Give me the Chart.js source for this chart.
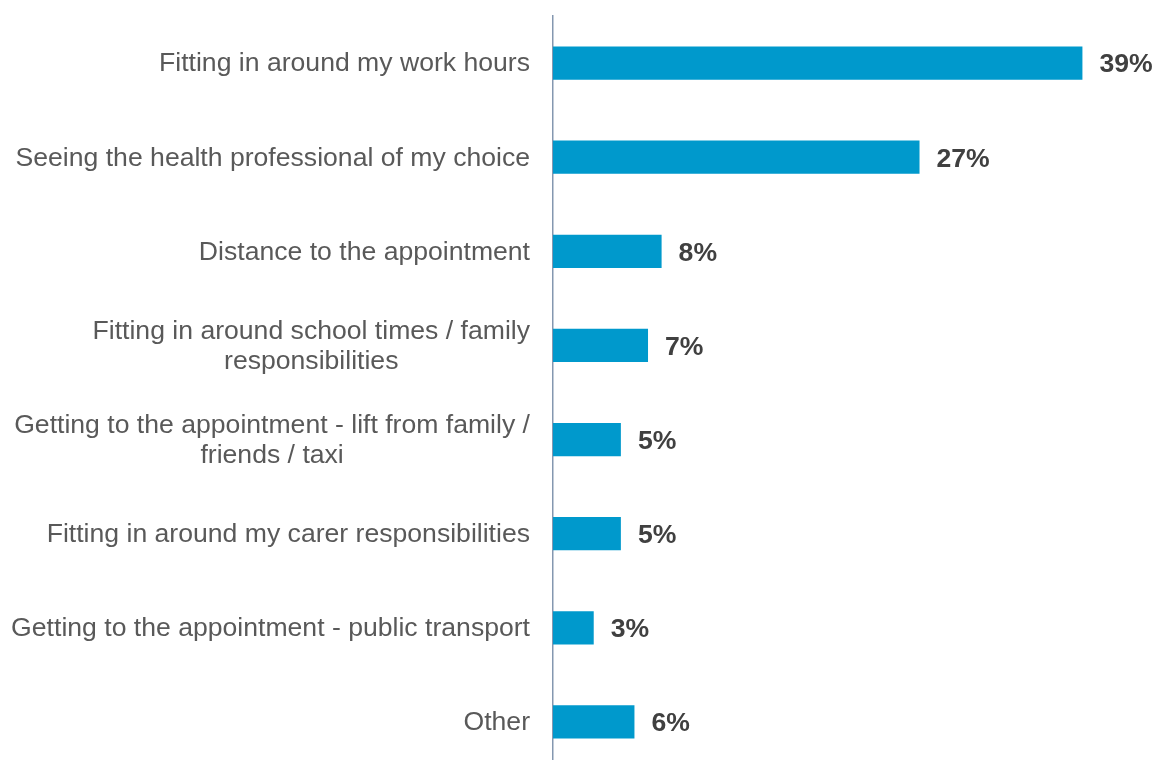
<!DOCTYPE html>
<html>
<head>
<meta charset="utf-8">
<script src="https://cdn.jsdelivr.net/npm/chart.js@4/dist/chart.umd.min.js"></script>
<style>
  html, body { margin: 0; padding: 0; background: #ffffff; overflow: hidden; }
  #wrap { position: relative; width: 1156px; height: 770px; }
</style>
</head>
<body>
<div id="wrap"><canvas id="chart"></canvas></div>
<script>
// Reasons respondents gave, in display order (top to bottom)
const categories = [
  ['Fitting in around my work hours'],
  ['Seeing the health professional of my choice'],
  ['Distance to the appointment'],
  ['Fitting in around school times / family', 'responsibilities'],
  ['Getting to the appointment - lift from family /', 'friends / taxi'],
  ['Fitting in around my carer responsibilities'],
  ['Getting to the appointment - public transport'],
  ['Other']
];
// Share of respondents, percent
const percentages = [39, 27, 8, 7, 5, 5, 3, 6];
const valueLabels = ['39%', '27%', '8%', '7%', '5%', '5%', '3%', '6%'];

const FONT = '"Liberation Sans", Arial, sans-serif';

// Category names (right-aligned block, centred lines) and value labels
const labelPlugin = {
  id: 'labelPlugin',
  afterDraw(chart) {
    const ctx = chart.ctx;
    const y = chart.scales.y;
    const x = chart.scales.x;
    ctx.save();
    ctx.textBaseline = 'middle';

    // category names
    ctx.font = '26.6px ' + FONT;
    ctx.fillStyle = '#595959';
    ctx.textAlign = 'center';
    const rightEdge = chart.chartArea.left - 23;
    const lineH = 30;
    categories.forEach((lines, i) => {
      const cy = y.getPixelForValue(i);
      const widest = Math.max(...lines.map(l => ctx.measureText(l).width));
      const cx = rightEdge - widest / 2;
      lines.forEach((l, k) => {
        ctx.fillText(l, cx, cy + 1 + (k - (lines.length - 1) / 2) * lineH);
      });
    });

    // value labels
    ctx.font = 'bold 26.6px ' + FONT;
    ctx.fillStyle = '#404040';
    ctx.textAlign = 'left';
    percentages.forEach((v, i) => {
      const cy = y.getPixelForValue(i);
      ctx.fillText(valueLabels[i], x.getPixelForValue(v) + 17, cy + 2);
    });
    ctx.restore();
  }
};

new Chart(document.getElementById('chart'), {
  type: 'bar',
  data: {
    labels: categories.map(l => l.join(' ')),
    datasets: [{
      data: percentages,
      backgroundColor: '#0099CC',
      borderWidth: 0,
      categoryPercentage: 1,
      barPercentage: 0.354
    }]
  },
  options: {
    indexAxis: 'y',
    responsive: true,
    maintainAspectRatio: false,
    animation: false,
    layout: { padding: { top: 16, bottom: 1, left: 0, right: 60 } },
    plugins: { legend: { display: false }, tooltip: { enabled: false } },
    scales: {
      x: { display: false, min: 0, max: 40 },
      y: {
        display: true,
        ticks: { display: false },
        grid: { display: false, drawTicks: false },
        border: { display: true, color: '#8497B0', width: 1.5 },
        afterFit(scale) { scale.width = 553; }
      }
    }
  },
  plugins: [labelPlugin]
});
</script>
</body>
</html>
